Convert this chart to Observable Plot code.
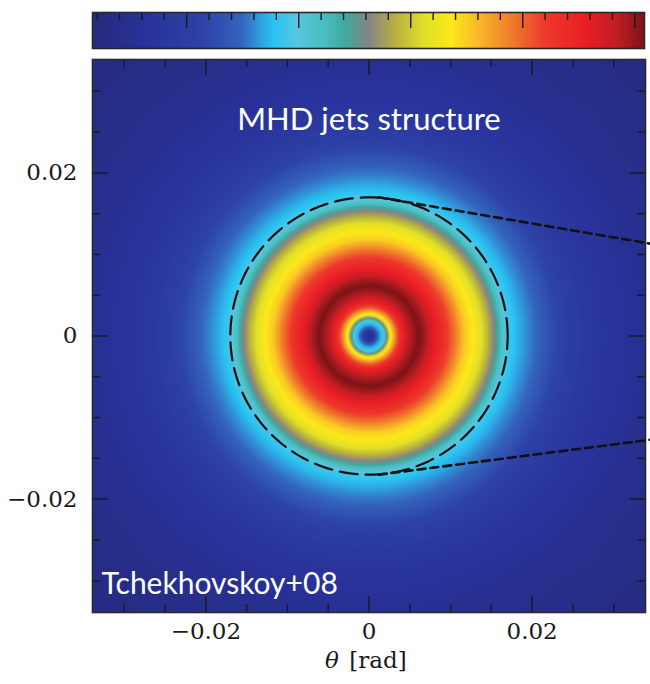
<!DOCTYPE html>
<html><head><meta charset="utf-8">
<script src="https://cdn.jsdelivr.net/npm/d3@7"></script>
<script src="https://cdn.jsdelivr.net/npm/@observablehq/plot@0.6"></script>
<style>
body{margin:0;background:#fff;}
#chart{position:relative;width:650px;height:684px;overflow:hidden;}
#chart svg{display:block;overflow:visible;}
</style></head><body><div id="chart"></div>
<script>
// Radial profile of the jet: radius θ (rad) and normalised colour value
const profileR = [0, 0.0005, 0.001, 0.00135, 0.0017, 0.0021, 0.00245, 0.0028, 0.0033, 0.0039,
  0.0049, 0.0061, 0.0071, 0.0081, 0.0093, 0.0106, 0.0118, 0.0133, 0.0145, 0.0155,
  0.0162, 0.0169, 0.0178, 0.019, 0.0206, 0.0233, 0.0267, 0.0329, 0.0405, 0.049];
const profileV = [0.04, 0.12, 0.25, 0.31, 0.34, 0.46, 0.58, 0.67, 0.76, 0.86,
  0.95, 1.0, 0.96, 0.9, 0.84, 0.76, 0.68, 0.63, 0.56, 0.49,
  0.42, 0.36, 0.33, 0.3, 0.27, 0.2, 0.14, 0.08, 0.04, 0.02];

// Colour map (position along the bar -> colour)
const cmapStops = [0, 0.1, 0.2, 0.27, 0.31, 0.33, 0.37, 0.42, 0.46, 0.5, 0.55, 0.6, 0.65, 0.7, 0.76, 0.82, 0.9, 0.95, 1];
const cmapColors = ["#252a7c", "#28329a", "#2d42a8", "#3464bc", "#2fa8e4", "#29c4f2", "#58c6e0", "#49bec0", "#41a89c",
  "#858585", "#b8b040", "#e0e028", "#fce81a", "#f8b828", "#f07a2a", "#ee3a2c", "#e81c24", "#c01e24", "#7c1416"];

// Colour bar scale and ticks
const cbarDomain = [0.159, 5.087];
const cbarMajorTicks = [1, 2, 3, 4, 5];
const cbarMinorTicks = [0.2, 0.4, 0.6, 0.8, 1.2, 1.4, 1.6, 1.8, 2.2, 2.4, 2.6, 2.8, 3.2, 3.4, 3.6, 3.8, 4.2, 4.4, 4.6, 4.8];

// Image axes
const axisDomain = [-0.0339, 0.0339];
const majorTicks = [-0.02, 0, 0.02];
const majorTickLabels = ["\u22120.02", "0", "0.02"];
const minorTicks = [-0.03, -0.025, -0.015, -0.01, -0.005, 0.005, 0.01, 0.015, 0.025, 0.03];

// Jet boundary and the guide lines leading to the zoomed panel
const boundaryRadius = 0.017;
const guideUpper = [{x: 0.0012, y: 0.017}, {x: 0.0346, y: 0.0113}];
const guideLower = [{x: 0.0012, y: -0.017}, {x: 0.0346, y: -0.0127}];

const titleText = "MHD jets structure";
const creditText = "Tchekhovskoy+08";

const serif = "'DejaVu Serif', serif";
const sans = "Lato, 'Open Sans', sans-serif";
const ink = "#1a1a1a";

const profile = d3.scaleLinear().domain(profileR).range(profileV).clamp(true);
const colorScale = {type: "linear", domain: cmapStops, range: cmapColors, clamp: true};

// ---------- colour bar ----------
const cbW = 650, cbH = 55, cbTop = 12, cbBottom = 7, cbLeft = 92, cbRight = 6;
const cbInnerH = cbH - cbTop - cbBottom;
const colorbar = Plot.plot({
  width: cbW, height: cbH,
  marginTop: cbTop, marginBottom: cbBottom, marginLeft: cbLeft, marginRight: cbRight,
  x: {domain: cbarDomain, axis: null},
  y: {domain: [0, 1], axis: null},
  color: colorScale,
  marks: [
    Plot.raster({
      x1: cbarDomain[0], x2: cbarDomain[1], y1: 0, y2: 1,
      fill: (x) => (x - cbarDomain[0]) / (cbarDomain[1] - cbarDomain[0])
    }),
    Plot.tickX(cbarMinorTicks, {x: d => d, stroke: ink, strokeWidth: 1.4, insetBottom: cbInnerH - 8}),
    Plot.tickX(cbarMajorTicks, {x: d => d, stroke: ink, strokeWidth: 1.4, insetBottom: cbInnerH - 16}),
    Plot.frame({stroke: "#2a2a2a", strokeWidth: 1.6})
  ]
});

// ---------- main image ----------
const W = 650, H = 629, mTop = 4, mBottom = 72, mLeft = 92, mRight = 5;
const inner = H - mTop - mBottom;
const tickMarks = (values, len) => [
  Plot.tickX(values, {x: d => d, stroke: ink, strokeWidth: 1.4, insetTop: inner - len}),
  Plot.tickX(values, {x: d => d, stroke: ink, strokeWidth: 1.4, insetBottom: inner - len}),
  Plot.tickY(values, {y: d => d, stroke: ink, strokeWidth: 1.4, insetRight: inner - len}),
  Plot.tickY(values, {y: d => d, stroke: ink, strokeWidth: 1.4, insetLeft: inner - len})
];
const circle = d3.range(0, 361).map(a => ({
  x: boundaryRadius * Math.cos(a * Math.PI / 180),
  y: boundaryRadius * Math.sin(a * Math.PI / 180)
}));
const tickRows = majorTicks.map((v, i) => ({v, label: majorTickLabels[i]}));

const main = Plot.plot({
  width: W, height: H,
  marginTop: mTop, marginBottom: mBottom, marginLeft: mLeft, marginRight: mRight,
  x: {domain: axisDomain, axis: null},
  y: {domain: axisDomain, axis: null},
  color: colorScale,
  marks: [
    Plot.raster({
      x1: axisDomain[0], x2: axisDomain[1], y1: axisDomain[0], y2: axisDomain[1],
      fill: (x, y) => profile(Math.hypot(x, y))
    }),
    Plot.line(circle, {x: "x", y: "y", stroke: "#111", strokeWidth: 2.2, strokeDasharray: "18,8"}),
    Plot.line(guideUpper, {x: "x", y: "y", stroke: "#111", strokeWidth: 2.6, strokeDasharray: "8,5", clip: false}),
    Plot.line(guideLower, {x: "x", y: "y", stroke: "#111", strokeWidth: 2.6, strokeDasharray: "8,5", clip: false}),
    ...tickMarks(minorTicks, 8),
    ...tickMarks(majorTicks, 16),
    Plot.frame({stroke: "#2a2a2a", strokeWidth: 1.6}),
    Plot.text([titleText], {text: d => d, frameAnchor: "top", dy: 48, fill: "white", fontSize: 31, fontFamily: sans}),
    Plot.text([creditText], {text: d => d, frameAnchor: "bottom-left", dx: 9, dy: -19, textAnchor: "start", fill: "white", fontSize: 30, fontFamily: sans}),
    Plot.text(tickRows, {x: "v", text: "label", frameAnchor: "bottom", dy: 26, fontSize: 23, fontFamily: serif, fill: ink}),
    Plot.text(tickRows, {y: "v", text: "label", frameAnchor: "left", dx: -15, textAnchor: "end", fontSize: 23, fontFamily: serif, fill: ink}),
    Plot.text(["\u03b8"], {text: d => d, frameAnchor: "bottom", dx: -37, dy: 55, fontSize: 23, fontStyle: "italic", fontFamily: serif, fill: ink}),
    Plot.text(["[rad]"], {text: d => d, frameAnchor: "bottom", dx: 9, dy: 55, fontSize: 23, fontFamily: serif, fill: ink, letterSpacing: "1.5px"})
  ]
});

const chart = document.getElementById("chart");
chart.appendChild(colorbar);
chart.appendChild(main);
</script>
</body></html>
